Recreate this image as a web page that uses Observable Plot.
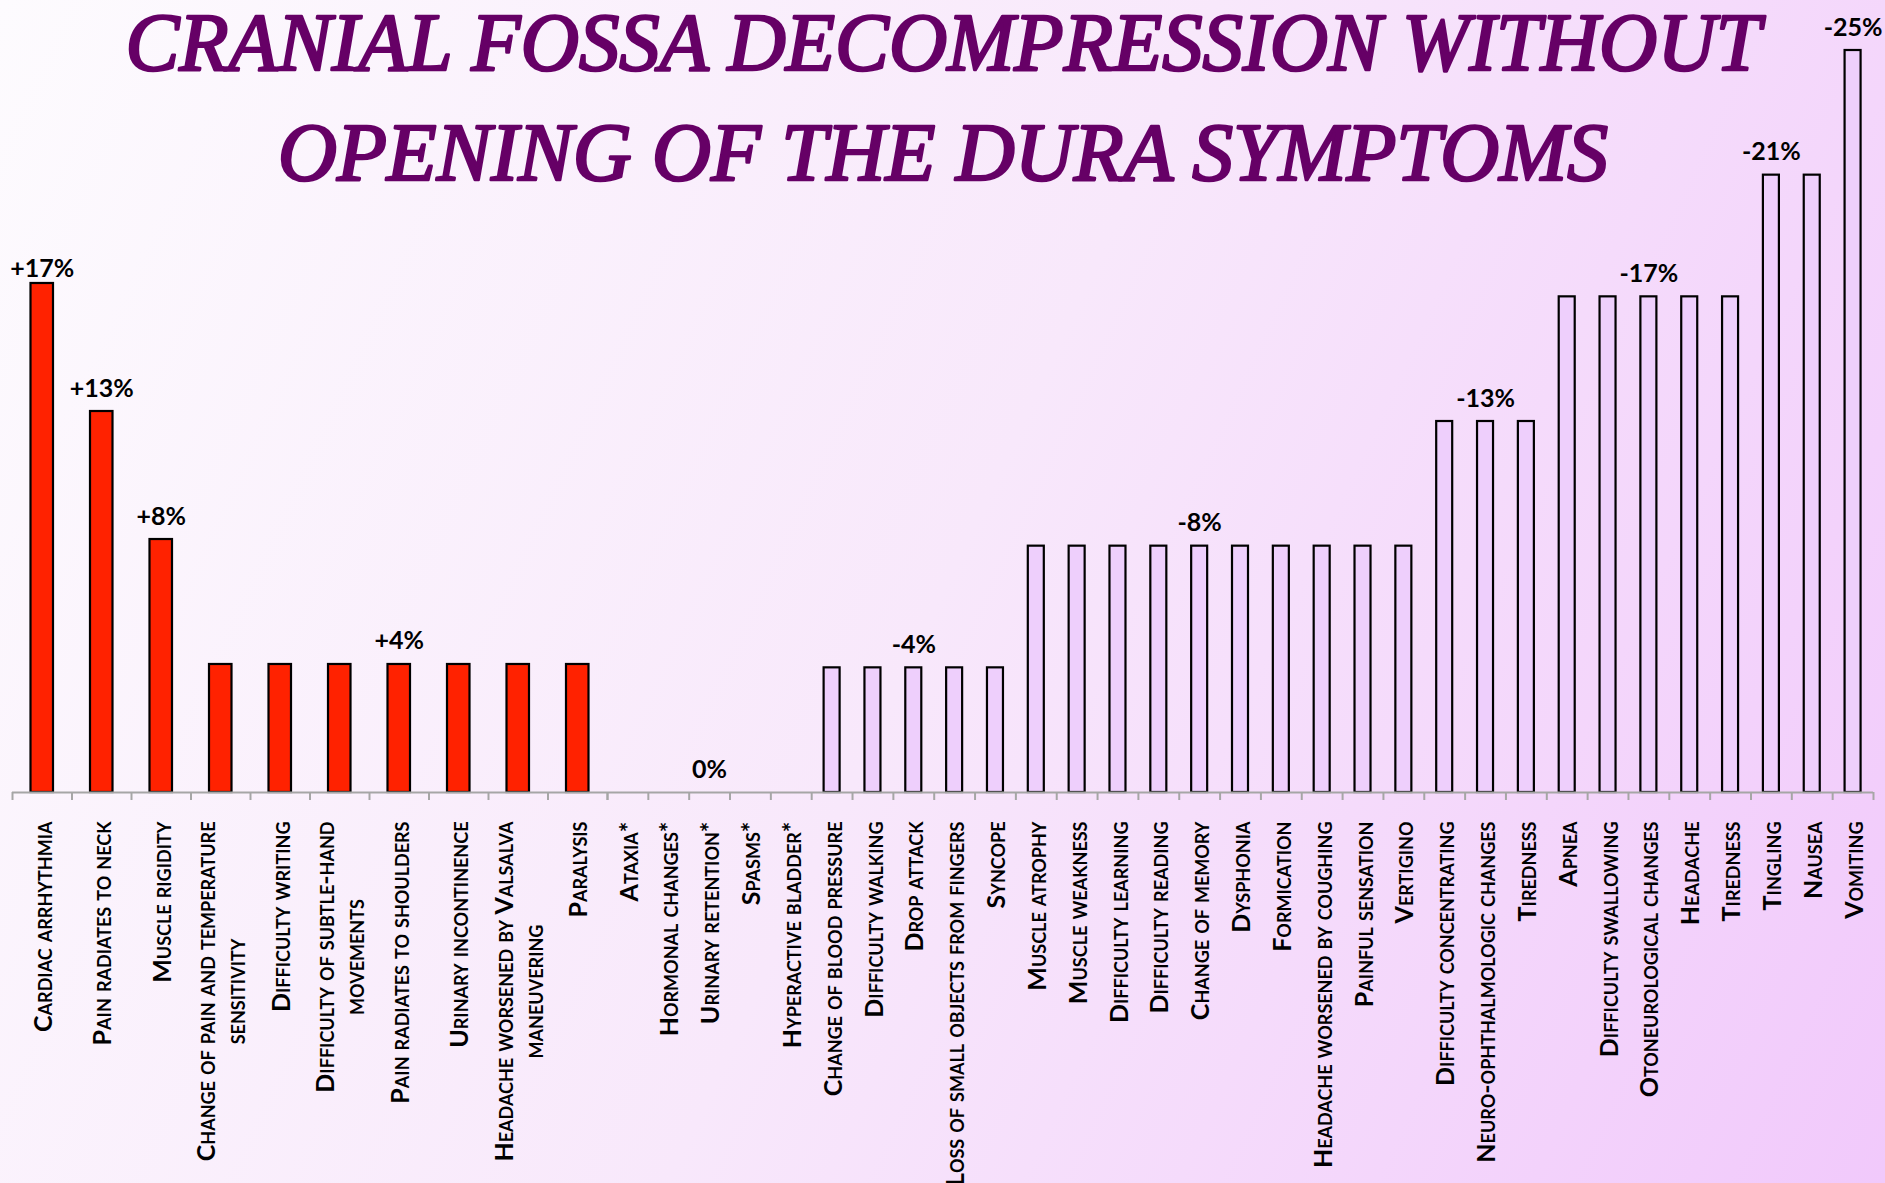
<!DOCTYPE html>
<html><head><meta charset="utf-8">
<script src="https://cdn.jsdelivr.net/npm/d3@7"></script>
<script src="https://cdn.jsdelivr.net/npm/@observablehq/plot@0.6"></script>
<style>
html,body{margin:0;padding:0;}
body{width:1885px;height:1183px;overflow:hidden;position:relative;
  background:linear-gradient(115deg,#fdfbfe 0%,#f8e8fb 50%,#f1c9fb 100%);}
#left,#right,#title{position:absolute;top:0;}
#left{left:0;} #right{left:595px;} #title{left:0;}
svg{overflow:visible}
</style></head><body>
<div id="left"></div><div id="right"></div>
<svg id="title" width="1885" height="200"></svg>
<script>
const titleLines = ["CRANIAL FOSSA DECOMPRESSION WITHOUT", "OPENING OF THE DURA SYMPTOMS"];

const posCategories = ["Cardiac arrhythmia","Pain radiates to neck","Muscle rigidity",
  "Change of pain and temperature\nsensitivity","Difficulty writing",
  "Difficulty of subtle-hand\nmovements","Pain radiates to shoulders","Urinary incontinence",
  "Headache worsened by Valsalva\nmaneuvering","Paralysis"];
const posValues = [16.7,12.5,8.3,4.2,4.2,4.2,4.2,4.2,4.2,4.2];
const posLabels = ["+17%","+13%","+8%","","","","+4%","","",""];

const negCategories = ["Ataxia*","Hormonal changes*","Urinary retention*","Spasms*","Hyperactive bladder*",
  "Change of blood pressure","Difficulty walking","Drop attack","Loss of small objects from fingers","Syncope",
  "Muscle atrophy","Muscle weakness","Difficulty learning","Difficulty reading","Change of memory",
  "Dysphonia","Formication","Headache worsened by coughing","Painful sensation","Vertigino",
  "Difficulty concentrating","Neuro-ophthalmologic changes","Tiredness",
  "Apnea","Difficulty swallowing","Otoneurological changes","Headache","Tiredness",
  "Tingling","Nausea","Vomiting"];
const negValues = [0,0,0,0,0,
  -4.2,-4.2,-4.2,-4.2,-4.2,
  -8.3,-8.3,-8.3,-8.3,-8.3,-8.3,-8.3,-8.3,-8.3,-8.3,
  -12.5,-12.5,-12.5,
  -16.7,-16.7,-16.7,-16.7,-16.7,
  -20.8,-20.8,
  -25];
const negLabels = ["","","0%","","","","","-4%","","","","","","","-8%","","","","","",
  "","-13%","","","","-17%","","","-21%","","-25%"];

function makeChart({categories, values, labels, width, marginLeft, marginRight, marginTop, barWidth, fill, firstLabelDy}) {
  const n = categories.length;
  const data = categories.map((c, i) => ({i, c, v: values[i], label: labels[i]}));
  const step = (width - marginLeft - marginRight) / n;
  const inset = (step - barWidth) / 2;
  const axisStyle = {stroke: "#a6a6a6", strokeWidth: 2, strokeOpacity: 1, tickSize: 8,
    tickFormat: () => "", label: null};
  const labelStyle = {text: "label", lineAnchor: "bottom", fontSize: 25, fontWeight: "bold",
    fontFamily: "Lato", fill: "#000"};
  const withLabel = data.filter(d => d.label);
  const firstOnly = firstLabelDy != null ? withLabel.filter(d => d.i === 0) : [];
  const rest = firstLabelDy != null ? withLabel.filter(d => d.i !== 0) : withLabel;
  return Plot.plot({
    width, height: 1183, marginLeft, marginRight, marginTop, marginBottom: 391,
    style: {background: "transparent", overflow: "visible"},
    x: {type: "band", domain: d3.range(n), padding: 0, round: false, axis: null},
    y: {domain: [0, 25], axis: null},
    marks: [
      Plot.barY(data, {x: "i", y: d => Math.abs(d.v), fill, stroke: "#000", strokeWidth: 2.2,
        insetLeft: inset, insetRight: inset}),
      Plot.ruleY([0], {stroke: "#a6a6a6", strokeWidth: 2}),
      Plot.axisX({...axisStyle, ticks: d3.range(n), dx: -step / 2}),
      Plot.axisX({...axisStyle, ticks: [n - 1], dx: step / 2}),
      Plot.text(data, {x: "i", frameAnchor: "bottom", text: "c", dy: 29, rotate: -90,
        textAnchor: "end", lineAnchor: "middle", lineHeight: 1.2, fontSize: 25,
        fontWeight: "bold", fontFamily: "Lato", fontVariant: "small-caps", fill: "#000"}),
      Plot.text(rest, {...labelStyle, x: "i", y: d => Math.abs(d.v), dy: -15}),
      Plot.text(firstOnly, {...labelStyle, x: "i", y: d => Math.abs(d.v), dy: firstLabelDy ?? -15})
    ]
  });
}

const left = makeChart({categories: posCategories, values: posValues, labels: posLabels,
  width: 620, marginLeft: 12, marginRight: 13, marginTop: 30, barWidth: 22.5, fill: "#ff2200", firstLabelDy: -6});
const right = makeChart({categories: negCategories, values: negValues, labels: negLabels,
  width: 1290, marginLeft: 12, marginRight: 12, marginTop: 50, barWidth: 16, fill: "#eecffc"});
document.getElementById("left").appendChild(left);
document.getElementById("right").appendChild(right);

// center-align the lines of multi-line category labels
for (const svg of [left, right]) {
  svg.querySelectorAll("text").forEach(t => {
    const spans = t.querySelectorAll("tspan");
    if (spans.length < 2) return;
    let L = 0;
    spans.forEach(s => { L = Math.max(L, s.getComputedTextLength()); });
    t.setAttribute("text-anchor", "middle");
    spans.forEach(s => s.setAttribute("x", -L / 2));
  });
}

// title
const tsvg = d3.select("#title");
const tspec = [{y: 70, len: 1635}, {y: 180, len: 1330}];
titleLines.forEach((line, k) => {
  tsvg.append("text")
    .attr("x", 943).attr("y", tspec[k].y)
    .attr("text-anchor", "middle")
    .attr("textLength", tspec[k].len).attr("lengthAdjust", "spacingAndGlyphs")
    .attr("font-family", "Liberation Serif").attr("font-style", "italic").attr("font-weight", "normal")
    .attr("font-size", 82).attr("fill", "#660066")
    .attr("stroke", "#660066").attr("stroke-width", 2.6).attr("stroke-linejoin", "round")
    .text(line);
});
</script>
</body></html>
